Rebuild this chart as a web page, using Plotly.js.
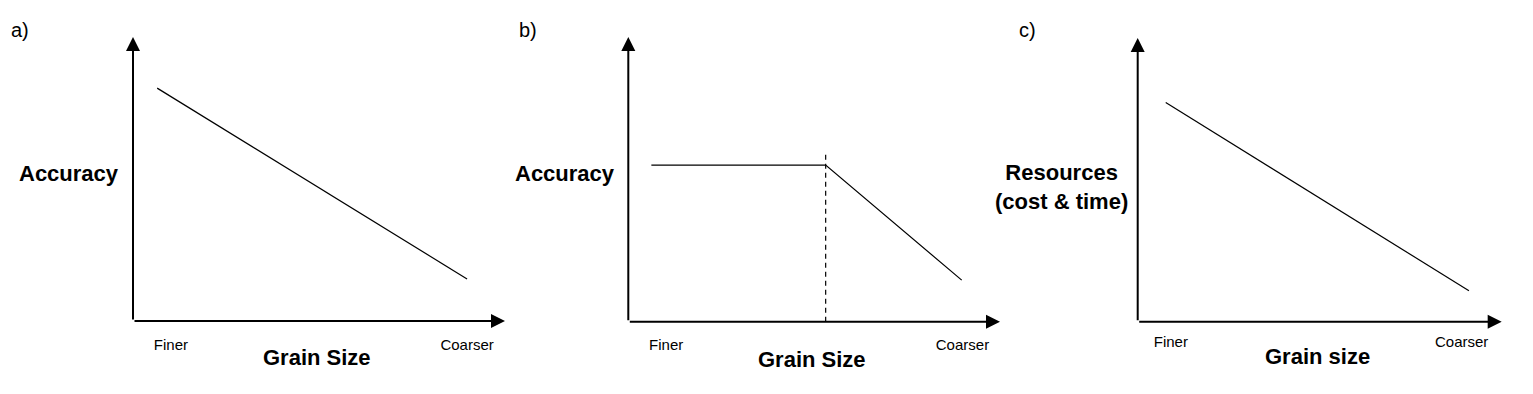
<!DOCTYPE html>
<html>
<head>
<meta charset="utf-8">
<script src="https://cdn.plot.ly/plotly-3.0.1.min.js"></script>
<style>html,body{margin:0;padding:0;background:#fff;}#chart{width:1533px;height:394px;}</style>
</head>
<body>
<div id="chart"></div>
<script>
// ---- data (arbitrary conceptual units, axes run 0..10) ----
const panelLabels = ["a)", "b)", "c)"];
const yTitles = ["Accuracy", "Accuracy", "Resources<br>(cost & time)"];
const xTitles = ["Grain Size", "Grain Size", "Grain size"];
const tickText = ["Finer", "Coarser"];
const tickValsA = [1.02, 8.98];
const tickValsB = [1.02, 8.99];
const tickValsC = [0.91, 8.9];

const aX = [0.65, 8.98];
const aY = [8.2, 1.48];

const bX = [0.62, 5.31, 8.97];
const bY = [5.5, 5.5, 1.46];
const bDashX = [5.31, 5.31];
const bDashY = [0, 5.97];

const cX = [0.77, 9.1];
const cY = [7.73, 1.09];

const font = "Arial, 'Liberation Sans', sans-serif";

const traces = [
  {x: aX, y: aY, xaxis: 'x', yaxis: 'y', mode: 'lines', line: {color: '#000', width: 1.2}, hoverinfo: 'skip'},
  {x: bX, y: bY, xaxis: 'x2', yaxis: 'y2', mode: 'lines', line: {color: '#000', width: 1.2}, hoverinfo: 'skip'},
  {x: bDashX, y: bDashY, xaxis: 'x2', yaxis: 'y2', mode: 'lines', line: {color: '#000', width: 1.2, dash: '5px,4px'}, hoverinfo: 'skip'},
  {x: cX, y: cY, xaxis: 'x3', yaxis: 'y3', mode: 'lines', line: {color: '#000', width: 1.2}, hoverinfo: 'skip'}
];

function xax(domain, tv, tl) {
  return {domain: domain, range: [0, 10], showgrid: false, zeroline: false, showline: false,
    tickvals: tv, ticktext: tickText, ticks: 'outside', ticklen: tl, tickcolor: 'rgba(0,0,0,0)',
    tickfont: {family: font, size: 15, color: '#000'}, fixedrange: true};
}
function yax(domain) {
  return {domain: domain, range: [0, 10], showgrid: false, zeroline: false, showline: false,
    showticklabels: false, ticks: '', fixedrange: true};
}

const annotations = [];
const refs = [['x', 'y'], ['x2', 'y2'], ['x3', 'y3']];
const titleShift = [-36, -38, -35];
const yTitleY = [5.21, 5.22, 4.75];
const yTitleShift = [-12, -11, -8];
refs.forEach(function (r, i) {
  // axis arrows
  annotations.push({xref: r[0], yref: r[1], axref: r[0], ayref: r[1], x: 10, y: 0, ax: 0, ay: 0,
    text: '', showarrow: true, arrowhead: 2, arrowsize: 1.4, arrowwidth: 2, arrowcolor: '#000', standoff: 0, startstandoff: 0});
  annotations.push({xref: r[0], yref: r[1], axref: r[0], ayref: r[1], x: 0, y: 10, ax: 0, ay: 0,
    text: '', showarrow: true, arrowhead: 2, arrowsize: 1.4, arrowwidth: 2, arrowcolor: '#000', standoff: 0, startstandoff: 0});
  // x title
  annotations.push({xref: r[0], yref: r[1], x: 4.95, y: 0, yshift: titleShift[i], xanchor: 'center', yanchor: 'middle',
    text: '<b>' + xTitles[i] + '</b>', showarrow: false, font: {family: font, size: 22, color: '#000'}});
  // y title
  annotations.push({xref: r[0], yref: r[1], x: 0, y: yTitleY[i], xshift: yTitleShift[i], xanchor: 'right', yanchor: 'middle',
    text: '<b>' + yTitles[i] + '</b>', align: 'center', showarrow: false, font: {family: font, size: 22, color: '#000'}});
});
const labelX = [9, 517, 1017];
panelLabels.forEach(function (t, i) {
  annotations.push({xref: 'paper', yref: 'paper', x: labelX[i] / 1533, y: 1 - 30 / 394, xanchor: 'left', yanchor: 'middle',
    text: t, showarrow: false, font: {family: font, size: 20, color: '#000'}});
});

const layout = {
  width: 1533, height: 394, margin: {l: 0, r: 0, t: 0, b: 0},
  paper_bgcolor: '#fff', plot_bgcolor: '#fff', showlegend: false,
  xaxis: xax([133 / 1533, 505 / 1533], tickValsA, 10),
  yaxis: yax([(394 - 321) / 394, (394 - 37) / 394]),
  xaxis2: xax([628.3 / 1533, 1000 / 1533], tickValsB, 10),
  yaxis2: yax([(394 - 321.7) / 394, (394 - 37) / 394]),
  xaxis3: xax([1137.7 / 1533, 1501.7 / 1533], tickValsC, 7),
  yaxis3: yax([(394 - 321.7) / 394, (394 - 38) / 394]),
  annotations: annotations
};

Plotly.newPlot('chart', traces, layout, {displayModeBar: false, staticPlot: true});
</script>
</body>
</html>
